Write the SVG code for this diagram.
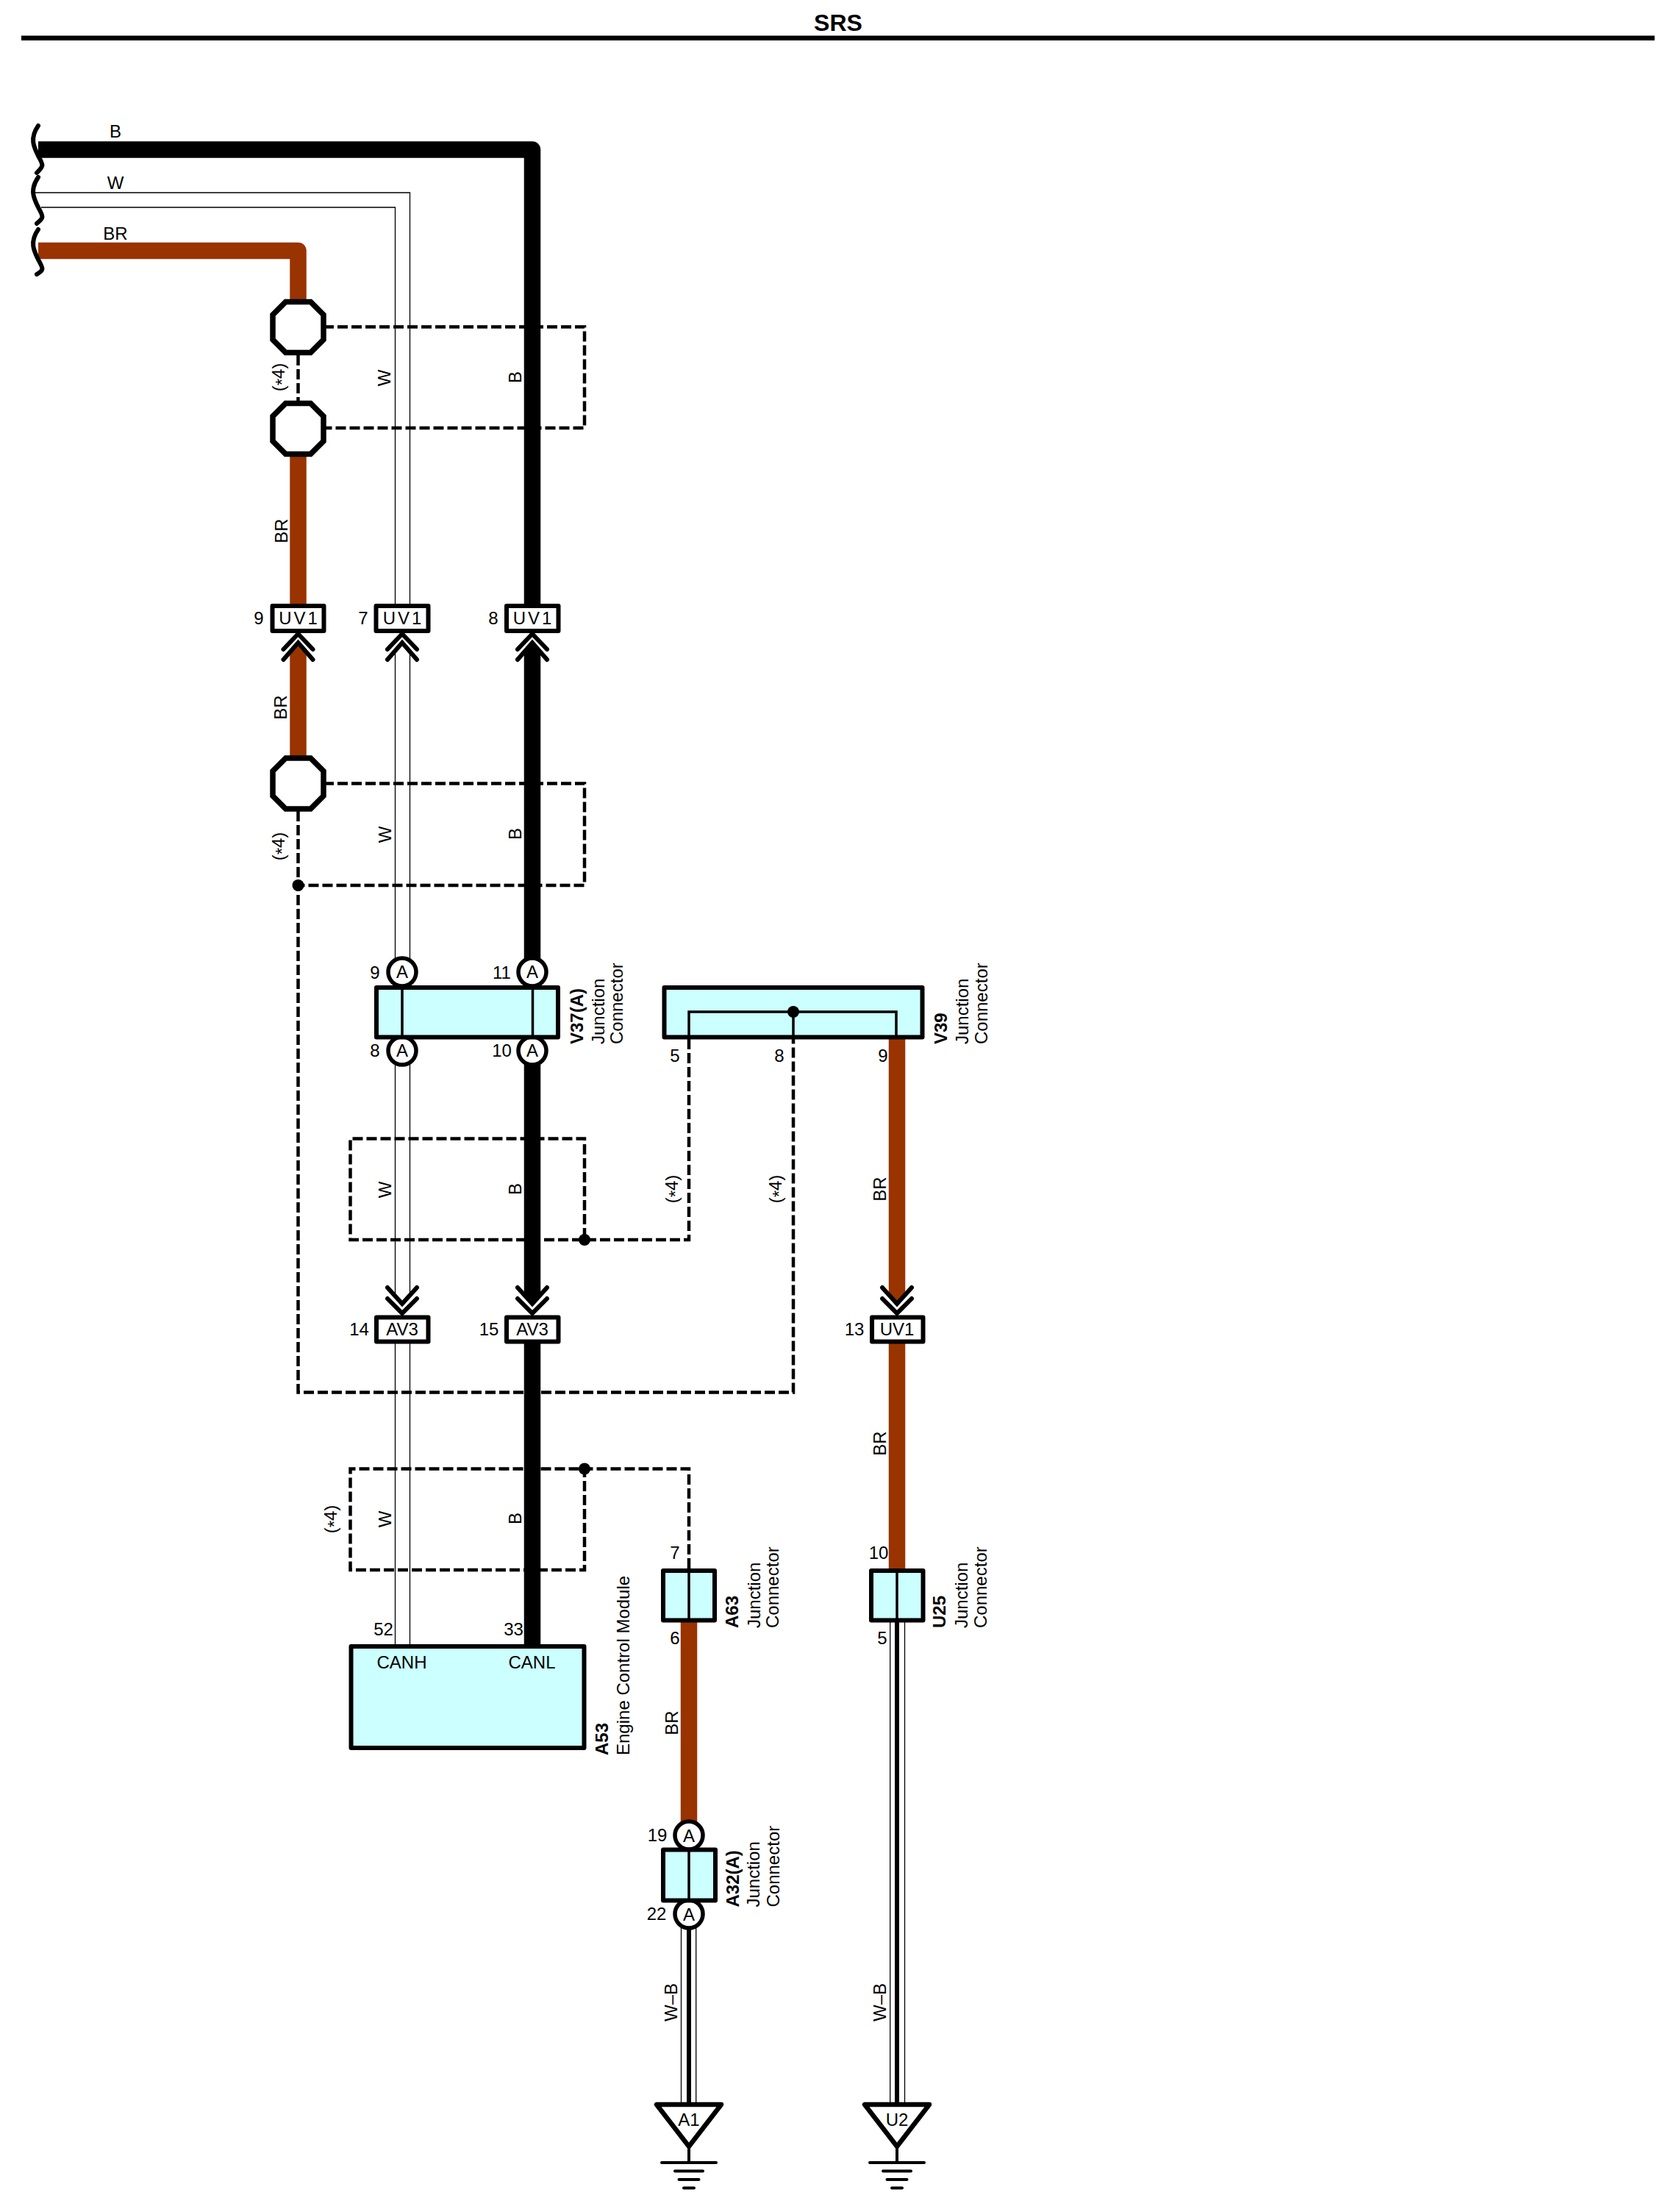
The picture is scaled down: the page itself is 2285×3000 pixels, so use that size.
<svg xmlns="http://www.w3.org/2000/svg" width="2285" height="3000" viewBox="0 0 2285 3000">
<style>
text{font-family:"Liberation Sans",Arial,sans-serif;font-size:24px;fill:#000}
.m{text-anchor:middle}
.b{font-weight:bold}
.title{font-size:32px;font-weight:bold;text-anchor:middle}
.sp{letter-spacing:3px}
.wb{fill:none;stroke:#000;stroke-width:22.500;stroke-linejoin:round}
.wr{fill:none;stroke:#993300;stroke-width:22.500;stroke-linejoin:round}
.thin{fill:none;stroke:#000;stroke-width:1.3}
.core{fill:none;stroke:#000;stroke-width:6}
.dash{fill:none;stroke:#000;stroke-width:4.5;stroke-dasharray:14 5}
.inner{fill:none;stroke:#000;stroke-width:3.5}
.box{fill:#ccffff;stroke:#000;stroke-width:6;stroke-linejoin:round}
.tag{fill:#fff;stroke:#000;stroke-width:6;stroke-linejoin:round}
.oct{fill:#fff;stroke:#000;stroke-width:7.5}
.cir{fill:#fff;stroke:#000;stroke-width:5.5}
.chev{fill:none;stroke:#000;stroke-width:6;stroke-linecap:round;stroke-linejoin:miter}
.squig{fill:none;stroke:#000;stroke-width:6;stroke-linecap:round}
.gnd{fill:none;stroke:#000;stroke-width:4;stroke-linecap:round}
.tri{fill:#fff;stroke:#000;stroke-width:6.500;stroke-linejoin:round}
</style>
<defs>
<path id="octagon" d="M-17,-34.5H17L34.5,-17V17L17,34.5H-17L-34.5,17V-17Z"/>
<path id="chev-up" d="M-20,22L0,1L20,22M-20,36L0,13L20,36"/>
<path id="chev-down" d="M-20,-71L0,-49L20,-71M-20,-56L0,-36L20,-56"/>
<path id="tip-up" d="M-11.2,26L0,13L11.2,26Z"/>
<path id="tip-down" d="M-11.2,-62L0,-49L11.2,-62Z"/>
<g id="ground"><path d="M0,58V78M-37,78H37M-19,89.500H19M-13.500,101H13.500M-7,112.500H7"/></g>
</defs>

<g id="header">
<text class="title" x="1140" y="41.500">SRS</text>
<rect x="29" y="48.500" width="2221.500" height="6.500" fill="#000"/>
</g>

<g id="connectors">
<path class="wb" d="M52,203.500H724V821"/>
<path class="wb" d="M724,886V1305"/>
<path class="wb" d="M724,1445V1760"/>
<path class="wb" d="M724,1825V2238"/>
<use href="#tip-up" x="724" y="861" fill="#000"/>
<use href="#tip-down" x="724" y="1822" fill="#000"/>
<path class="thin" d="M44,262H557.500V825"/>
<path class="thin" d="M56,282H537.500V825"/>
<path class="thin" d="M537.500,886V1305M557.500,886V1305M537.500,1445V1762M557.500,1445V1762M537.500,1825V2238M557.500,1825V2238"/>
<path class="wr" d="M52,341H405.500V410"/>
<path class="wr" d="M405.500,620V821"/>
<path class="wr" d="M405.500,886V1030"/>
<use href="#tip-up" x="405.500" y="861" fill="#993300"/>
<path class="wr" d="M1220,1413V1760"/>
<use href="#tip-down" x="1220" y="1822" fill="#993300"/>
<path class="wr" d="M1220,1825V2135"/>
<path class="wr" d="M937,2205V2478"/>
<path class="thin" d="M926.500,2620V2860M946.700,2620V2860M1210.700,2205V2860M1230.500,2205V2860"/>
<path class="core" d="M937,2620V2860M1220,2205V2860"/>
<path class="dash" d="M405.500,483V545"/>
<path class="dash" d="M440,444.500H795V582H440"/>
<path class="dash" d="M440,1065.500H795V1204H405.500"/>
<path class="dash" d="M405.500,1103V1893.500H1079V1413"/>
<path class="dash" d="M937,1413V1686H476.500V1548.500H795V1686"/>
<path class="dash" d="M937,2133V1997.500H476.500V2135H795V1997.500"/>
<circle cx="405.500" cy="1204" r="8"/>
<circle cx="795" cy="1686" r="8"/>
<circle cx="795" cy="1997.500" r="8"/>
<use href="#chev-up" class="chev" x="405.500" y="861"/>
<use href="#chev-up" class="chev" x="547" y="861"/>
<use href="#chev-up" class="chev" x="724" y="861"/>
<use href="#chev-down" class="chev" x="547" y="1822"/>
<use href="#chev-down" class="chev" x="724" y="1822"/>
<use href="#chev-down" class="chev" x="1220" y="1822"/>
</g>

<g id="break-marks">
<path class="squig" d="M52,171C40,188 46,200 52,212C60,226 59,226 50,235"/>
<path class="squig" d="M52,241C40,258 46,270 52,282C60,296 59,296 50,304"/>
<path class="squig" d="M52,312C40,329 46,341 52,353C60,367 59,367 50,373"/>
</g>

<g id="wire-labels">
<text class="m" x="157" y="187">B</text>
<text class="m" x="157" y="257">W</text>
<text class="m" x="157" y="326">BR</text>
<text class="m" transform="translate(387,513) rotate(-90)">(<tspan dy="5">*</tspan><tspan dy="-5">4)</tspan></text>
<text class="m" transform="translate(531,514) rotate(-90)">W</text>
<text class="m" transform="translate(709,513) rotate(-90)">B</text>
<text class="m" transform="translate(390.500,722) rotate(-90)">BR</text>
<text class="m" transform="translate(390,962) rotate(-90)">BR</text>
<text class="m" transform="translate(387,1151) rotate(-90)">(<tspan dy="5">*</tspan><tspan dy="-5">4)</tspan></text>
<text class="m" transform="translate(532,1135) rotate(-90)">W</text>
<text class="m" transform="translate(709,1134) rotate(-90)">B</text>
<text class="m" transform="translate(532,1618) rotate(-90)">W</text>
<text class="m" transform="translate(709,1617) rotate(-90)">B</text>
<text class="m" transform="translate(922,1617) rotate(-90)">(<tspan dy="5">*</tspan><tspan dy="-5">4)</tspan></text>
<text class="m" transform="translate(1063,1617) rotate(-90)">(<tspan dy="5">*</tspan><tspan dy="-5">4)</tspan></text>
<text class="m" transform="translate(1205,1617) rotate(-90)">BR</text>
<text class="m" transform="translate(1205,1963) rotate(-90)">BR</text>
<text class="m" transform="translate(458,2066) rotate(-90)">(<tspan dy="5">*</tspan><tspan dy="-5">4)</tspan></text>
<text class="m" transform="translate(532,2066) rotate(-90)">W</text>
<text class="m" transform="translate(709,2065) rotate(-90)">B</text>
<text class="m" transform="translate(921.500,2343) rotate(-90)">BR</text>
<text class="m" transform="translate(921,2723) rotate(-90)">W–B</text>
<text class="m" transform="translate(1205,2723) rotate(-90)">W–B</text>
</g>

<g id="splice-1"><use href="#octagon" class="oct" x="405.500" y="445"/></g>
<g id="splice-2"><use href="#octagon" class="oct" x="405.500" y="583"/></g>
<g id="splice-3"><use href="#octagon" class="oct" x="405.500" y="1065.500"/></g>

<g id="uv1-9"><rect class="tag" x="370.500" y="824" width="70" height="34"/><text class="m sp" x="407" y="849">UV1</text><text class="m" x="352" y="849">9</text></g>
<g id="uv1-7"><rect class="tag" x="511.500" y="824" width="71" height="34"/><text class="m sp" x="548.500" y="849">UV1</text><text class="m" x="494" y="849">7</text></g>
<g id="uv1-8"><rect class="tag" x="689" y="824" width="70.500" height="34"/><text class="m sp" x="725.500" y="849">UV1</text><text class="m" x="671" y="849">8</text></g>

<g id="V37">
<circle class="cir" cx="547" cy="1322" r="19"/>
<circle class="cir" cx="724" cy="1322" r="19"/>
<circle class="cir" cx="547" cy="1429" r="19"/>
<circle class="cir" cx="724" cy="1429" r="19"/>
<text class="m" x="547" y="1330">A</text><text class="m" x="724" y="1330">A</text>
<text class="m" x="547" y="1437">A</text><text class="m" x="724" y="1437">A</text>
<rect class="box" x="512" y="1343" width="247" height="67.500"/>
<path class="inner" d="M547,1343V1410M724.500,1343V1410"/>
<text class="m" x="510" y="1331">9</text><text class="m" x="682.500" y="1331">11</text>
<text class="m" x="510" y="1437">8</text><text class="m" x="682.500" y="1437">10</text>
<text class="b" transform="translate(793,1420) rotate(-90)">V37(A)</text>
<text transform="translate(822,1420) rotate(-90)">Junction</text>
<text transform="translate(847,1420) rotate(-90)">Connector</text>
</g>

<g id="V39">
<rect class="box" x="903.500" y="1343" width="351" height="67.500"/>
<path class="inner" d="M937,1410V1376H1219V1410M1079,1376V1410"/>
<circle cx="1079" cy="1376" r="8"/>
<text class="m" x="918" y="1444">5</text><text class="m" x="1060" y="1444">8</text><text class="m" x="1201" y="1444">9</text>
<text class="b" transform="translate(1288,1420) rotate(-90)">V39</text>
<text transform="translate(1317,1420) rotate(-90)">Junction</text>
<text transform="translate(1343,1420) rotate(-90)">Connector</text>
</g>

<g id="av3-14"><rect class="tag" x="512" y="1791.500" width="70.500" height="33"/><text class="m" x="547" y="1816">AV3</text><text class="m" x="488.500" y="1816">14</text></g>
<g id="av3-15"><rect class="tag" x="689" y="1791.500" width="70.500" height="33"/><text class="m" x="724" y="1816">AV3</text><text class="m" x="665" y="1816">15</text></g>
<g id="uv1-13"><rect class="tag" x="1186" y="1791.500" width="69.500" height="33"/><text class="m" x="1220" y="1816">UV1</text><text class="m" x="1162" y="1816">13</text></g>

<g id="A53">
<rect class="box" x="477.500" y="2239" width="317" height="138"/>
<text class="m" x="521.500" y="2224">52</text><text class="m" x="698.500" y="2224">33</text>
<text class="m" x="546.500" y="2269">CANH</text><text class="m" x="723.500" y="2269">CANL</text>
<text class="b" transform="translate(827,2387) rotate(-90)">A53</text>
<text transform="translate(856,2387) rotate(-90)">Engine Control Module</text>
</g>

<g id="A63">
<rect class="box" x="902" y="2136" width="70" height="67.500"/>
<path class="inner" d="M937,2136V2203"/>
<text class="m" x="918" y="2120">7</text><text class="m" x="918" y="2236">6</text>
<text class="b" transform="translate(1003.500,2214) rotate(-90)">A63</text>
<text transform="translate(1034,2214) rotate(-90)">Junction</text>
<text transform="translate(1059,2214) rotate(-90)">Connector</text>
</g>

<g id="U25">
<rect class="box" x="1185" y="2136" width="70.500" height="67.500"/>
<path class="inner" d="M1220,2136V2203"/>
<text class="m" x="1195" y="2120">10</text><text class="m" x="1200" y="2236">5</text>
<text class="b" transform="translate(1286,2214) rotate(-90)">U25</text>
<text transform="translate(1316,2214) rotate(-90)">Junction</text>
<text transform="translate(1342,2214) rotate(-90)">Connector</text>
</g>

<g id="A32">
<circle class="cir" cx="937" cy="2496" r="19"/>
<circle class="cir" cx="937" cy="2603" r="19"/>
<text class="m" x="937" y="2504.500">A</text><text class="m" x="937" y="2611.500">A</text>
<rect class="box" x="902" y="2515.500" width="71" height="69"/>
<path class="inner" d="M937,2515V2584"/>
<text class="m" x="894" y="2504">19</text><text class="m" x="893" y="2611">22</text>
<text class="b" transform="translate(1005,2593.500) rotate(-90)">A32(A)</text>
<text transform="translate(1033,2593.500) rotate(-90)">Junction</text>
<text transform="translate(1060,2593.500) rotate(-90)">Connector</text>
</g>

<g id="ground-A1">
<use href="#ground" class="gnd" x="937" y="2863"/>
<path class="tri" d="M893,2862H981L937,2919Z"/>
<text class="m" x="937" y="2891">A1</text>
</g>
<g id="ground-U2">
<use href="#ground" class="gnd" x="1220" y="2863"/>
<path class="tri" d="M1176,2862H1264L1220,2919Z"/>
<text class="m" x="1220" y="2891">U2</text>
</g>
</svg>
